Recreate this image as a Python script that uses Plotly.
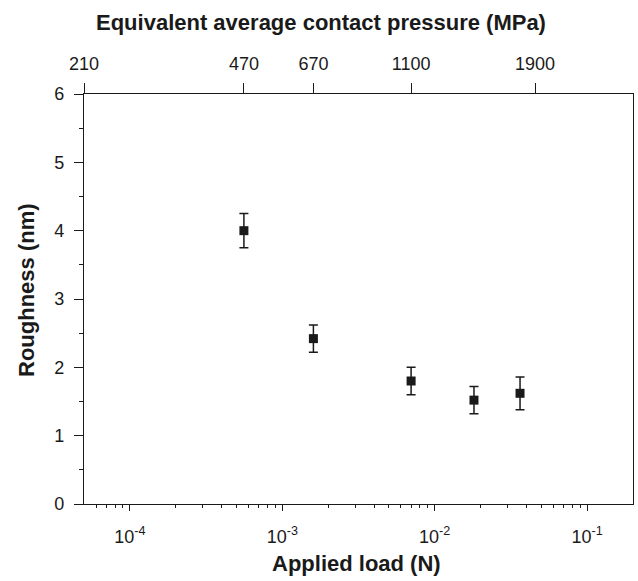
import math
import plotly.graph_objects as go

# Data
applied_load = [5.6e-4, 1.6e-3, 7.0e-3, 1.81e-2, 3.63e-2]          # N
roughness = [4.0, 2.42, 1.8, 1.52, 1.62]                           # nm
roughness_err = [0.25, 0.2, 0.2, 0.2, 0.24]                         # nm

# Top axis: equivalent average contact pressure
pressure_labels = ["210", "470", "670", "1100", "1900"]
pressure_at_load = [5.0e-5, 5.6e-4, 1.6e-3, 7.0e-3, 4.55e-2]

load_range = [5e-5, 0.2]
log_range = [math.log10(load_range[0]), math.log10(load_range[1])]

minor_vals = [m * 10.0 ** e for e in range(-5, 0) for m in range(2, 10)]
minor_vals = [v for v in minor_vals if load_range[0] < v < load_range[1]]

font_family = "Liberation Sans, Arial, sans-serif"
ink = "#1a1a1a"

W, H = 638, 581
L, R, T, B = 84, 5, 94, 77
pw, ph = W - L - R, H - T - B

def px_x(x):
    return (x - L) / pw

def px_y(y):
    return (H - B - y) / ph

fig = go.Figure()
fig.add_trace(go.Scatter(
    x=applied_load, y=roughness, mode="markers",
    marker=dict(symbol="square", size=9, color=ink),
    error_y=dict(type="data", array=roughness_err, visible=True,
                 thickness=1.5, width=4.5, color=ink),
    showlegend=False, xaxis="x", yaxis="y",
))
fig.add_trace(go.Scatter(x=[load_range[0]], y=[0], mode="markers",
                         marker=dict(opacity=0), showlegend=False,
                         hoverinfo="skip", xaxis="x2", yaxis="y"))

fig.update_layout(
    width=W, height=H,
    margin=dict(l=L, r=R, t=T, b=B),
    plot_bgcolor="white", paper_bgcolor="white",
    font=dict(family=font_family, size=18, color=ink),
    xaxis=dict(
        type="log", range=log_range, showgrid=False, zeroline=False,
        showline=True, linecolor=ink, linewidth=1.2,
        tickvals=[1e-4, 1e-3, 1e-2, 1e-1],
        ticktext=["10<sup>-4</sup>", "10<sup>-3</sup>", "10<sup>-2</sup>", "10<sup>-1</sup>"],
        ticks="outside", ticklen=6, tickwidth=1.2, tickcolor=ink,
        ticklabelstandoff=10,
        minor=dict(tickvals=minor_vals, ticks="outside", ticklen=3,
                   tickwidth=1.2, tickcolor=ink, showgrid=False),
        tickfont=dict(size=18),
    ),
    xaxis2=dict(
        type="log", range=log_range, overlaying="x", side="top",
        showgrid=False, zeroline=False, showline=True, linecolor=ink, linewidth=1.2,
        tickvals=pressure_at_load, ticktext=pressure_labels,
        ticks="outside", ticklen=10, tickwidth=1.2, tickcolor=ink,
        ticklabelstandoff=6,
        tickfont=dict(size=18),
    ),
    yaxis=dict(
        range=[0, 6], showgrid=False, zeroline=False,
        showline=True, linecolor=ink, linewidth=1.2, mirror=True,
        tickvals=[0, 1, 2, 3, 4, 5, 6],
        ticks="outside", ticklen=9, tickwidth=1.2, tickcolor=ink,
        ticklabelstandoff=6,
        minor=dict(dtick=0.5, ticks="outside", ticklen=4, tickwidth=1.2,
                   tickcolor=ink, showgrid=False),
        tickfont=dict(size=18),
    ),
    annotations=[
        dict(text="<b>Equivalent average contact pressure (MPa)</b>",
             xref="paper", yref="paper", x=px_x(321), y=px_y(22),
             xanchor="center", yanchor="middle", showarrow=False,
             font=dict(size=22)),
        dict(text="<b>Applied load (N)</b>",
             xref="paper", yref="paper", x=px_x(356), y=px_y(563),
             xanchor="center", yanchor="middle", showarrow=False,
             font=dict(size=22)),
        dict(text="<b>Roughness (nm)</b>", textangle=-90,
             xref="paper", yref="paper", x=px_x(26), y=px_y(290),
             xanchor="center", yanchor="middle", showarrow=False,
             font=dict(size=22)),
    ],
)

fig.write_html("out.html")
